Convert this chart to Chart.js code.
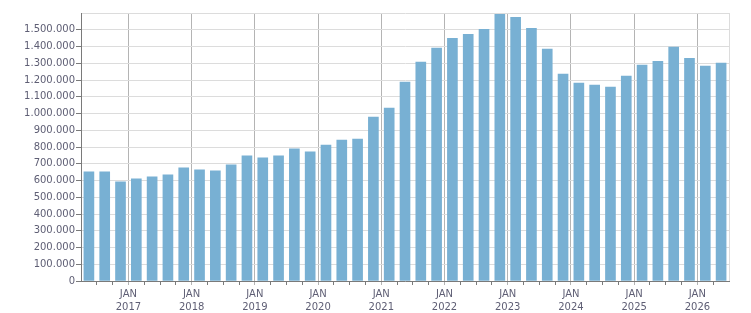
<!DOCTYPE html>
<html>
<head>
<meta charset="utf-8">
<script src="https://cdn.jsdelivr.net/npm/chart.js@4.4.1/dist/chart.umd.min.js"></script>
<style>
  html, body { margin: 0; padding: 0; background: #fff; }
  #wrap { width: 751px; height: 313px; }
</style>
</head>
<body>
<div id="wrap"><canvas id="chart" width="751" height="313"></canvas></div>
<script>
// Quarterly values, Q2 2016 .. Q2 2026
const quarters = [
  "2016 Q2", "2016 Q3", "2016 Q4",
  "2017 Q1", "2017 Q2", "2017 Q3", "2017 Q4",
  "2018 Q1", "2018 Q2", "2018 Q3", "2018 Q4",
  "2019 Q1", "2019 Q2", "2019 Q3", "2019 Q4",
  "2020 Q1", "2020 Q2", "2020 Q3", "2020 Q4",
  "2021 Q1", "2021 Q2", "2021 Q3", "2021 Q4",
  "2022 Q1", "2022 Q2", "2022 Q3", "2022 Q4",
  "2023 Q1", "2023 Q2", "2023 Q3", "2023 Q4",
  "2024 Q1", "2024 Q2", "2024 Q3", "2024 Q4",
  "2025 Q1", "2025 Q2", "2025 Q3", "2025 Q4",
  "2026 Q1", "2026 Q2"
];
const values = [
  652000, 652000, 592000,
  610000, 622000, 634000, 676000,
  664000, 658000, 693000, 747000,
  735000, 747000, 789000, 771000,
  812000, 842000, 848000, 979000,
  1033000, 1187000, 1307000, 1390000,
  1449000, 1473000, 1503000, 1592000,
  1574000, 1509000, 1384000, 1235000,
  1182000, 1170000, 1158000, 1223000,
  1289000, 1312000, 1396000, 1330000,
  1283000, 1301000
];
const yearTicks = [2017, 2018, 2019, 2020, 2021, 2022, 2023, 2024, 2025, 2026];
const monthLabel = "JAN";
const yMax = 1600000;
const yStep = 100000;

// position of a quarter on a continuous year axis (bar at middle of the quarter)
function quarterPos(label) {
  const [y, q] = label.split(" Q");
  return Number(y) + (Number(q) - 1) * 0.25 + 0.125;
}
const xMin = quarterPos(quarters[0]) - 0.125;
const xMax = quarterPos(quarters[quarters.length - 1]) + 0.125;

function fmt(v) {
  return String(v).replace(/\B(?=(\d{3})+(?!\d))/g, ".");
}

const textColor = "#5e5e74";
const axisColor = "#7a7a7a";
const gridColor = "#dcdcdc";
const yearLineColor = "#b4b4b4";
const font = { family: "DejaVu Sans", size: 10 };

new Chart(document.getElementById("chart").getContext("2d"), {
  type: "bar",
  data: {
    datasets: [{
      data: quarters.map((q, i) => ({ x: quarterPos(q), y: values[i] })),
      backgroundColor: "#78b0d3",
      borderWidth: 0,
      barThickness: 10
    }]
  },
  options: {
    responsive: false,
    animation: false,
    devicePixelRatio: 1,
    layout: { padding: { top: 13, right: 22, left: 0, bottom: 0 } },
    plugins: { legend: { display: false }, tooltip: { enabled: false } },
    scales: {
      x: {
        type: "linear",
        offset: false,
        min: xMin,
        max: xMax,
        afterBuildTicks: (scale) => {
          const t = [];
          for (let v = xMin; v <= xMax + 1e-9; v += 0.25) t.push({ value: Math.round(v * 100) / 100 });
          scale.ticks = t;
        },
        afterFit: (scale) => { scale.height = 32; },
        border: { color: axisColor, width: 1 },
        grid: {
          offset: false,
          tickLength: 4,
          color: (c) => {
            const v = c.tick && c.tick.value;
            if (yearTicks.includes(v)) return yearLineColor;
            if (v === xMax) return gridColor;
            return "rgba(0,0,0,0)";
          },
          tickColor: (c) => {
            const v = c.tick && c.tick.value;
            if (v === xMin || v === xMax) return "rgba(0,0,0,0)";
            return yearTicks.includes(v) ? yearLineColor : axisColor;
          }
        },
        ticks: {
          autoSkip: false,
          maxRotation: 0,
          padding: 3,
          color: textColor,
          font: { ...font, lineHeight: 1.27 },
          callback: (v) => yearTicks.includes(v) ? [monthLabel, String(v)] : ""
        }
      },
      y: {
        min: 0,
        max: yMax,
        afterFit: (scale) => { scale.width = 81; },
        border: { color: axisColor, width: 1 },
        grid: {
          tickLength: 5,
          color: gridColor,
          tickColor: (c) => (c.tick && c.tick.value >= yMax) ? "rgba(0,0,0,0)" : axisColor
        },
        ticks: {
          stepSize: yStep,
          padding: 1,
          color: textColor,
          font: font,
          callback: (v) => v >= yMax ? "" : fmt(v)
        }
      }
    }
  }
});
</script>
</body>
</html>
